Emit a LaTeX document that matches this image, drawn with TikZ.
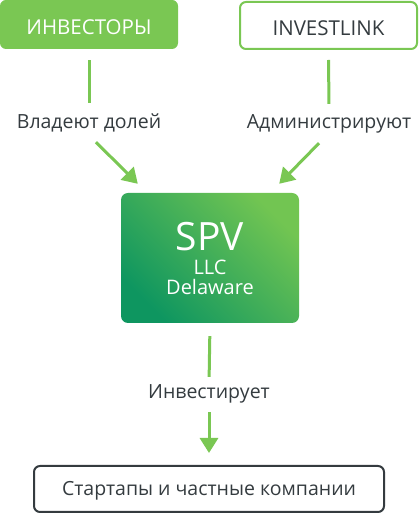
\documentclass[tikz,border=0pt]{standalone}
\usepackage{fontspec}
\setmainfont{Open Sans}
\usetikzlibrary{arrows.meta,positioning}
\definecolor{lgreen}{HTML}{7AC753}
\definecolor{dgreen}{HTML}{0E9660}
\definecolor{tgreen}{HTML}{72C552}
\definecolor{ink}{HTML}{343B3F}

\begin{document}
\begin{tikzpicture}[x=1pt,y=1pt,
    box/.style={rounded corners=6pt,minimum width=178pt,minimum height=49pt,inner sep=0pt,
      text height=19.5pt,text depth=0pt,font=\fontsize{20.5}{22}\selectfont},
    lbl/.style={inner sep=0pt,text height=13.5pt,text depth=3.5pt,text=ink,font=\fontsize{19.5}{22}\selectfont},
    link/.style={draw=lgreen,line width=3pt},
    arr/.style={link,-{Triangle[width=18pt,length=15pt]}}]
\useasboundingbox (0,0) rectangle (418,514);
\node[box,fill=lgreen,text=white] (inv) at (89,489.5) {ИНВЕСТОРЫ};
\node[box,draw=lgreen,line width=2pt,text=ink,minimum width=177pt,minimum height=47pt] (isl) at (328.5,488.5) {INVESTLINK};
\node[lbl] (own) at (89,390.5) {Владеют долей};
\node[lbl] (adm) at (329,390.5) {Администрируют};
\node[rounded corners=7pt,minimum width=178pt,minimum height=130pt,inner sep=0pt,align=center,text=white,
  font=\fontsize{20}{20}\selectfont,top color=tgreen,bottom color=dgreen,shading angle=-45] (spv) at (210,256)
  {{\fontsize{39}{40}\selectfont SPV}\\[4pt]LLC\\Delaware};
\node[lbl] (act) at (209,120) {Инвестирует};
\node[box,draw=ink,line width=2pt,text=ink,minimum width=350pt,minimum height=46pt,text height=13.5pt,
  font=\fontsize{19.5}{22}\selectfont] (st) at (209,25) {Стартапы и частные компании};

\draw[link,shorten <=11pt,shorten >=12pt] (inv.south) -- (own.north);
\draw[link,shorten <=10pt,shorten >=11pt] (isl.south) -- (adm.north);
\draw[arr] ([xshift=7pt,yshift=-10pt]own.south) -- ([xshift=17pt,yshift=9pt]spv.north west);
\draw[arr] ([xshift=-10pt,yshift=-11pt]adm.south) -- ([xshift=-20pt,yshift=9pt]spv.north east);
\draw[link,shorten <=13pt,shorten >=8.5pt] (spv.south) -- (act.north);
\draw[arr,shorten <=9.5pt,shorten >=12pt] (act.south) -- (st.north);
\end{tikzpicture}
\end{document}
